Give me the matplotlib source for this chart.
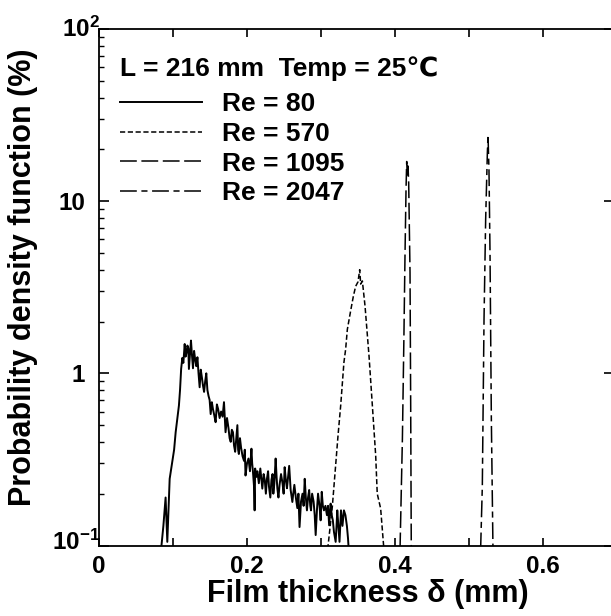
import matplotlib
matplotlib.use("Agg")
import matplotlib.pyplot as plt
from matplotlib.ticker import FixedLocator, FixedFormatter, NullFormatter
from matplotlib.transforms import blended_transform_factory, ScaledTranslation

plt.rcParams['font.family'] = ['Liberation Sans', 'DejaVu Sans']
plt.rcParams['font.weight'] = 'bold'
plt.rcParams['mathtext.fontset'] = 'custom'
plt.rcParams['mathtext.rm'] = 'Liberation Sans:bold'
plt.rcParams['mathtext.bf'] = 'Liberation Sans:bold'
plt.rcParams['mathtext.it'] = 'Liberation Sans:bold'

# ---- data ----
re80_points = [
    (0.0834, 0.09), (0.0870, 0.13), (0.0900, 0.19), (0.0923, 0.105), (0.0955, 0.244),
    (0.0990, 0.305), (0.1015, 0.36), (0.1036, 0.455), (0.1060, 0.55), (0.1080, 0.65),
    (0.1095, 0.8), (0.1110, 1.06), (0.1126, 1.23), (0.1140, 1.15), (0.1158, 1.48),
    (0.1170, 1.25), (0.1180, 1.3), (0.1195, 1.45), (0.1207, 1.4), (0.1215, 1.06),
    (0.1230, 1.3), (0.1243, 1.55), (0.1255, 1.3), (0.1270, 1.07), (0.1285, 1.35),
    (0.1300, 1.2), (0.1315, 1.1), (0.1330, 1.24), (0.1345, 1.0), (0.1360, 0.83),
    (0.1375, 1.05), (0.1390, 0.95), (0.1405, 0.85), (0.1420, 0.78), (0.1435, 0.9),
    (0.1450, 1.0), (0.1465, 0.8), (0.1480, 0.74), (0.1495, 0.7), (0.1509, 0.58),
    (0.1525, 0.68), (0.1540, 0.62), (0.1558, 0.57), (0.1576, 0.52), (0.1593, 0.66),
    (0.1610, 0.62), (0.1630, 0.55), (0.1650, 0.6), (0.1670, 0.56), (0.1689, 0.68),
    (0.1710, 0.455), (0.1730, 0.55), (0.1750, 0.48), (0.1765, 0.42), (0.1780, 0.40),
    (0.1795, 0.47), (0.1810, 0.455), (0.1825, 0.38), (0.1840, 0.35), (0.1855, 0.42),
    (0.1870, 0.5), (0.1880, 0.36), (0.1890, 0.34), (0.1905, 0.42), (0.1920, 0.37),
    (0.1940, 0.33), (0.1960, 0.31), (0.1970, 0.36), (0.1980, 0.255), (0.2000, 0.3),
    (0.2020, 0.32), (0.2040, 0.27), (0.2060, 0.365), (0.2070, 0.3), (0.2080, 0.27),
    (0.2095, 0.22), (0.2103, 0.16), (0.2110, 0.28), (0.2125, 0.25), (0.2140, 0.27),
    (0.2160, 0.23), (0.2180, 0.28), (0.2195, 0.24), (0.2207, 0.214), (0.2225, 0.26),
    (0.2240, 0.24), (0.2255, 0.2), (0.2270, 0.245), (0.2285, 0.27), (0.2297, 0.22),
    (0.2315, 0.19), (0.2330, 0.24), (0.2345, 0.26), (0.2356, 0.2), (0.2370, 0.23),
    (0.2387, 0.32), (0.2400, 0.25), (0.2410, 0.215), (0.2425, 0.19), (0.2440, 0.225),
    (0.2460, 0.26), (0.2480, 0.23), (0.2495, 0.2), (0.2509, 0.285), (0.2525, 0.24),
    (0.2540, 0.215), (0.2555, 0.25), (0.2570, 0.29), (0.2590, 0.21), (0.2613, 0.179),
    (0.2625, 0.2), (0.2640, 0.225), (0.2660, 0.19), (0.2680, 0.165), (0.2695, 0.2),
    (0.2710, 0.128), (0.2730, 0.18), (0.2750, 0.2), (0.2765, 0.17), (0.2780, 0.244),
    (0.2795, 0.19), (0.2810, 0.16), (0.2825, 0.19), (0.2840, 0.21), (0.2855, 0.17),
    (0.2865, 0.16), (0.2880, 0.2), (0.2900, 0.18), (0.2915, 0.15), (0.2928, 0.115),
    (0.2945, 0.16), (0.2960, 0.2), (0.2980, 0.17), (0.2995, 0.14), (0.3010, 0.205),
    (0.3025, 0.17), (0.3040, 0.16), (0.3060, 0.17), (0.3080, 0.15), (0.3095, 0.17),
    (0.3110, 0.131), (0.3130, 0.175), (0.3145, 0.15), (0.3160, 0.14), (0.3175, 0.12),
    (0.3198, 0.105), (0.3210, 0.13), (0.3220, 0.16), (0.3235, 0.13), (0.3250, 0.105),
    (0.3260, 0.13), (0.3270, 0.16), (0.3290, 0.13), (0.3310, 0.16), (0.3330, 0.15),
    (0.3350, 0.13), (0.3365, 0.11), (0.3378, 0.09),
]
x80 = [p[0] for p in re80_points]
y80 = [p[1] for p in re80_points]

x570 = [0.309, 0.3153, 0.320, 0.323, 0.3266, 0.331, 0.3333, 0.3356, 0.340, 0.3437, 0.3468,
        0.350, 0.3523, 0.3536, 0.3559, 0.3595, 0.3649, 0.3694, 0.3739, 0.376, 0.3806, 0.385]
y570 = [0.095, 0.168, 0.30, 0.435, 0.65, 1.16, 1.38, 1.8, 2.3, 2.8, 3.2,
        3.4, 4.0, 3.3, 3.44, 2.46, 1.26, 0.65, 0.333, 0.2, 0.164, 0.095]

x1095 = [0.4068, 0.410, 0.412, 0.4135, 0.4149, 0.4158, 0.4167, 0.4176, 0.4185, 0.4203, 0.4212, 0.422]
y1095 = [0.095, 0.417, 1.58, 4.8, 11.7, 17.0, 14.0, 16.0, 12.7, 3.85, 0.65, 0.095]

x2047 = [0.5157, 0.518, 0.5203, 0.5225, 0.5248, 0.5257, 0.5262, 0.527, 0.5284, 0.5302, 0.5324]
y2047 = [0.095, 0.22, 2.06, 7.8, 19.0, 24.3, 20.0, 15.2, 5.0, 0.54, 0.095]

series_labels = ['Re = 80', 'Re = 570', 'Re = 1095', 'Re = 2047']
legend_title = 'L = 216 mm  Temp = 25\u2103'
x_ticks = [0, 0.2, 0.4, 0.6]
x_ticklabels = ['0', '0.2', '0.4', '0.6']
x_minor = [0.1, 0.3, 0.5]
y_ticks = [0.1, 1, 10, 100]
y_ticklabels = ['', '1', '10', '']
y_power_ticks = [0.1, 100]
y_power_labels = [r'$10^{-1}$', r'$10^{2}$']

# ---- figure ----
W, H = 611, 616
fig = plt.figure(figsize=(W / 100, H / 100), dpi=100)
L, R, T, B = 99, 614, 29, 545.5
AW, AH = R - L, B - T
ax = fig.add_axes([L / W, 1 - B / H, AW / W, AH / H])

ax.plot(x80, y80, color='black', lw=1.4, ls='-', label=series_labels[0])
ax.plot(x570, y570, color='black', lw=1.1, ls=(0, (3.4, 1.7)), label=series_labels[1])
ax.plot(x1095, y1095, color='black', lw=1.1, ls=(0, (11, 3)), label=series_labels[2])
ax.plot(x2047, y2047, color='black', lw=1.1, ls=(0, (11, 3, 4, 3)), label=series_labels[3])

ax.set_yscale('log')
ax.set_ylim(0.1, 100)
ax.set_xlim(0, AW / 740)

ax.xaxis.set_major_locator(FixedLocator(x_ticks))
ax.xaxis.set_major_formatter(FixedFormatter(x_ticklabels))
ax.xaxis.set_minor_locator(FixedLocator(x_minor))
ax.yaxis.set_major_locator(FixedLocator(y_ticks))
ax.yaxis.set_major_formatter(FixedFormatter(y_ticklabels))
ax.yaxis.set_minor_formatter(NullFormatter())

ax.tick_params(axis='x', which='both', direction='in', top=True, length=5.8, width=1.2,
               labelsize=17.5, pad=7)
ax.tick_params(axis='y', which='major', direction='in', right=True, length=7, width=1.2,
               labelsize=17.5, pad=10)
ax.tick_params(axis='y', which='minor', direction='in', right=False, length=3.6, width=1.0)
for s in ax.spines.values():
    s.set_linewidth(1.3)

# power-of-ten labels sit right against the axis in the reference
ytrans = blended_transform_factory(ax.transAxes, ax.transData)
for val, lab in zip(y_power_ticks, y_power_labels):
    tr = ytrans
    if val < 1:
        tr = ytrans + ScaledTranslation(0, 3 / 100, fig.dpi_scale_trans)
    ax.text((100 - L) / AW, val, lab, transform=tr, ha='right', va='center',
            fontsize=17.5, fontweight='bold', clip_on=False)

ax.set_xlabel('Film thickness \u03b4 (mm)', fontsize=22, fontweight='bold')
ax.set_ylabel('Probability density function (%)', fontsize=22, fontweight='bold')
ax.xaxis.set_label_coords((368 - L) / AW, -(579 - B) / AH)
ax.yaxis.set_label_coords(-(L - 38) / AW, (B - 277) / AH)

ax.text((120 - L) / AW, (B - 76) / AH, legend_title, transform=ax.transAxes,
        fontsize=19, fontweight='bold', ha='left', va='baseline')

leg = ax.legend(loc='upper left', bbox_to_anchor=((120 - L) / AW, (B - 92) / AH),
                frameon=False, prop={'size': 19, 'weight': 'bold'},
                handlelength=3.1, handletextpad=0.76, labelspacing=0.22, borderpad=0,
                borderaxespad=0)

fig.savefig('out.png', dpi=100)
